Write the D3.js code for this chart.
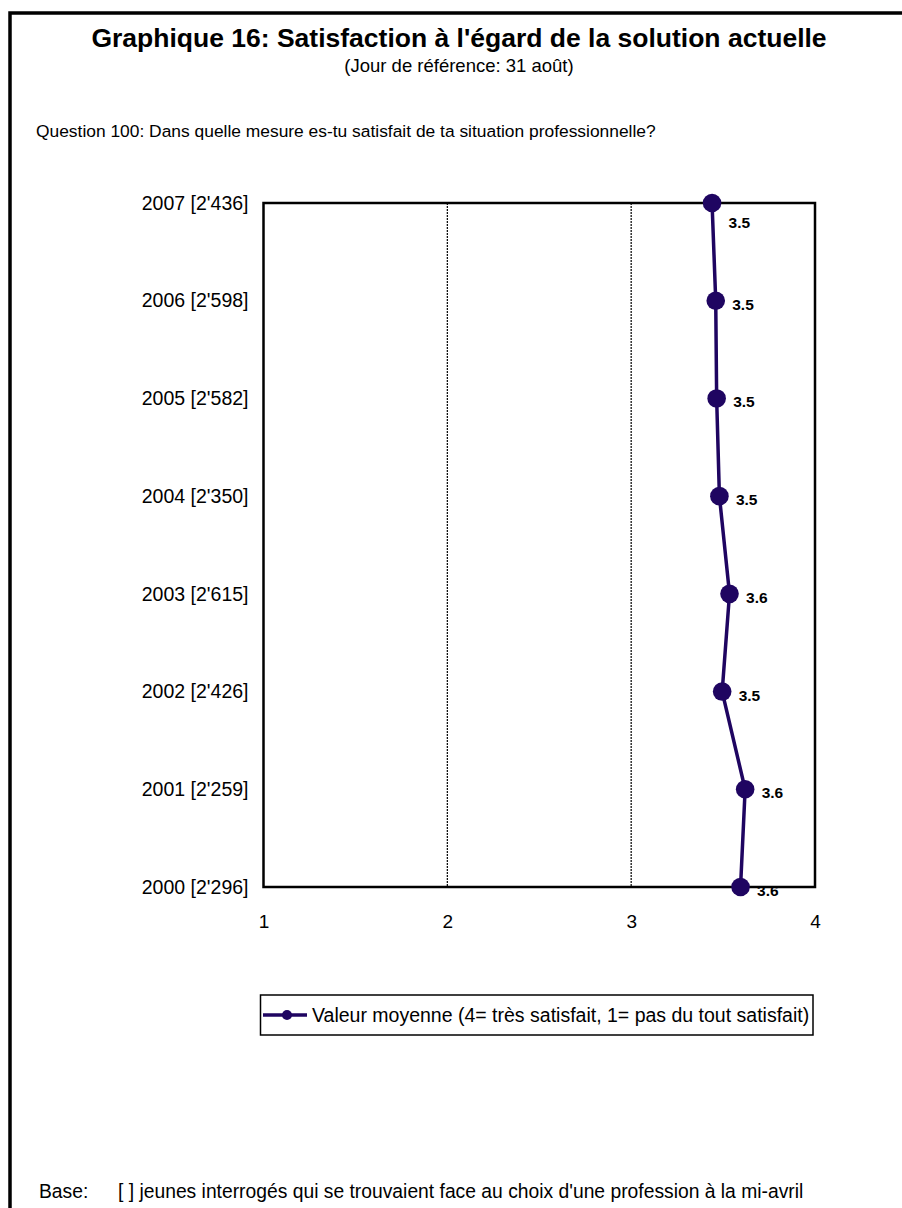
<!DOCTYPE html>
<html><head><meta charset="utf-8">
<script src="https://cdn.jsdelivr.net/npm/d3@7"></script>
<style>body{margin:0;background:#fff}svg{display:block;font-family:"Liberation Sans",Arial,sans-serif}</style>
</head><body><svg id="c" width="902" height="1208"></svg>
<script>
const categories = ["2007 [2'436]","2006 [2'598]","2005 [2'582]","2004 [2'350]","2003 [2'615]","2002 [2'426]","2001 [2'259]","2000 [2'296]"];
const values = [3.44, 3.46, 3.465, 3.48, 3.535, 3.495, 3.62, 3.595];
const valueLabels = ["3.5","3.5","3.5","3.5","3.6","3.5","3.6","3.6"];
const xTicks = [1,2,3,4];
const gridTicks = [2,3];
const title = "Graphique 16: Satisfaction à l'égard de la solution actuelle";
const subtitle = "(Jour de référence: 31 août)";
const question = "Question 100: Dans quelle mesure es-tu satisfait de ta situation professionnelle?";
const legendLabel = "Valeur moyenne (4= très satisfait, 1= pas du tout satisfait)";
const baseNote = "[ ] jeunes interrogés qui se trouvaient face au choix d'une profession à la mi-avril";

const svg = d3.select("#c");
const color = "#1f0561";
const FF = "Liberation Sans, Arial, sans-serif";
const L = 263.5, R = 815, T = 203, B = 887;
const x = d3.scaleLinear().domain([1,4]).range([L,R]);
const y = d3.scalePoint().domain(categories).range([T,B]).padding(0);

// outer frame
svg.append("rect").attr("x",10).attr("y",13).attr("width",1000).attr("height",1300)
  .attr("fill","none").attr("stroke","#000").attr("stroke-width",3.5);

svg.append("text").attr("x",459).attr("y",47).attr("text-anchor","middle")
  .attr("font-size",26.5).attr("font-weight","bold").text(title);
svg.append("text").attr("x",459).attr("y",72).attr("text-anchor","middle")
  .attr("font-size",18.5).text(subtitle);
svg.append("text").attr("x",36).attr("y",137).attr("font-size",17.4).text(question);

// grid lines
svg.append("g").selectAll("line").data(gridTicks).join("line")
  .attr("x1",d=>x(d)).attr("x2",d=>x(d)).attr("y1",T).attr("y2",B)
  .attr("stroke","#000").attr("stroke-width",1.2).attr("stroke-dasharray","2,1");

// plot border
svg.append("rect").attr("x",L).attr("y",T).attr("width",R-L).attr("height",B-T)
  .attr("fill","none").attr("stroke","#000").attr("stroke-width",2.5);

// x axis labels
const xa = svg.append("g").attr("transform",`translate(0,${B+24})`)
  .call(d3.axisBottom(x).tickValues(xTicks).tickSize(0).tickFormat(d3.format("d")));
xa.select(".domain").remove();
xa.selectAll("text").attr("font-size",19).attr("font-family",FF).attr("fill","#000");

// y axis labels
const ya = svg.append("g").attr("transform",`translate(${L-12},0)`)
  .call(d3.axisLeft(y).tickSize(0));
ya.select(".domain").remove();
ya.selectAll("text").attr("font-size",19.5).attr("font-family",FF).attr("fill","#000");

// line
const line = d3.line().x((d,i)=>x(d)).y((d,i)=>y(categories[i]));
svg.append("path").datum(values).attr("d",line).attr("fill","none")
  .attr("stroke",color).attr("stroke-width",3.5);
svg.append("g").selectAll("circle").data(values).join("circle")
  .attr("cx",d=>x(d)).attr("cy",(d,i)=>y(categories[i])).attr("r",9.3).attr("fill",color);

// value labels
svg.append("g").selectAll("text").data(values).join("text")
  .attr("x",d=>x(d)+16.5).attr("y",(d,i)=>Math.max(y(categories[i])+9, T+25))
  .attr("font-size",15.5).attr("font-weight","bold").attr("fill","#000")
  .text((d,i)=>valueLabels[i]);

// legend
const lg = svg.append("g");
lg.append("rect").attr("x",260.5).attr("y",995).attr("width",552.5).attr("height",40)
  .attr("fill","#fff").attr("stroke","#000").attr("stroke-width",1.5);
lg.append("line").attr("x1",263).attr("x2",307).attr("y1",1015).attr("y2",1015)
  .attr("stroke",color).attr("stroke-width",3.5);
lg.append("circle").attr("cx",287).attr("cy",1015).attr("r",5).attr("fill",color);
lg.append("text").attr("x",312).attr("y",1022).attr("font-size",19.5).text(legendLabel);

svg.append("text").attr("x",39).attr("y",1198).attr("font-size",19.3).text("Base:");
svg.append("text").attr("x",118).attr("y",1198).attr("font-size",19.3).text(baseNote);
</script></body></html>
